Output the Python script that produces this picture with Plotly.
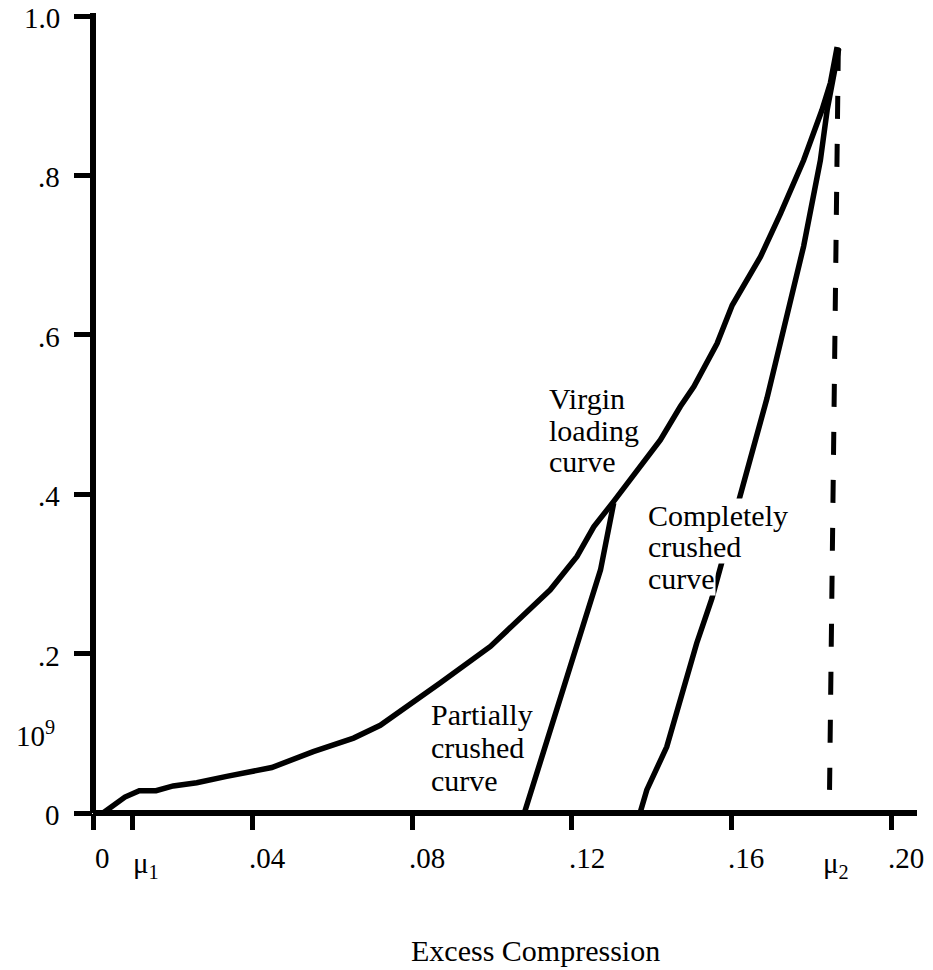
import plotly.graph_objects as go

# ---------------- data ----------------
virgin_x = [0.0025, 0.0080, 0.0116, 0.0158, 0.0201, 0.0260, 0.0335, 0.0448, 0.0552,
            0.0653, 0.0720, 0.0770, 0.0870, 0.0996, 0.1146, 0.1213, 0.1255, 0.1305,
            0.1422, 0.1472, 0.1506, 0.1564, 0.1602, 0.1673, 0.1723, 0.1781, 0.1827,
            0.1848, 0.1865]
virgin_y = [0.000, 0.020, 0.028, 0.028, 0.034, 0.038, 0.046, 0.057, 0.077,
            0.094, 0.110, 0.127, 0.163, 0.209, 0.280, 0.322, 0.359, 0.391,
            0.468, 0.510, 0.535, 0.589, 0.637, 0.698, 0.752, 0.819, 0.882,
            0.916, 0.961]

partial_x = [0.1081, 0.1272, 0.1305]
partial_y = [0.000, 0.305, 0.389]

crushed_x = [0.1371, 0.1388, 0.1438, 0.1513, 0.1551, 0.1689, 0.1781, 0.1823, 0.1840, 0.1869]
crushed_y = [0.000, 0.029, 0.083, 0.213, 0.269, 0.520, 0.711, 0.819, 0.882, 0.959]

mu2_line_x = [0.1868, 0.1846]
mu2_line_y = [0.960, 0.029]

x_tick_vals = [0, 0.01, 0.04, 0.08, 0.12, 0.16, 0.20]
x_tick_text = ["0", "μ<sub>1</sub>", ".04", ".08", ".12", ".16", ".20"]
y_tick_vals = [0, 0.2, 0.4, 0.6, 0.8, 1.0]
y_tick_text = ["0", ".2", ".4", ".6", ".8", "1.0"]
mu2_label = "μ<sub>2</sub>"
mu2_value = 0.1855
y_unit_label = "10<sup>9</sup>"
x_title = "Excess Compression"

label_virgin = ["Virgin", "loading", "curve"]
label_partial = ["Partially", "crushed", "curve"]
label_crushed = ["Completely", "crushed", "curve"]

# ---------------- styling ----------------
FONT = "Liberation Serif, Times New Roman, Times, serif"
W, H = 933, 970
L, R, T, B = 93, 16, 16, 157
PX_PER_X = 3990.0
PX_PER_Y = float(H - T - B)
x_max = (W - L - R) / PX_PER_X
LW = 5.5


def xd(px):
    return (px - L) / PX_PER_X


def yd(py):
    return (H - B - py) / PX_PER_Y


fig = go.Figure()
line_style = dict(color="black", width=LW)
fig.add_trace(go.Scatter(x=virgin_x, y=virgin_y, mode="lines", line=line_style,
                         hoverinfo="skip", cliponaxis=False))
fig.add_trace(go.Scatter(x=partial_x, y=partial_y, mode="lines", line=line_style,
                         hoverinfo="skip", cliponaxis=False))
fig.add_trace(go.Scatter(x=crushed_x, y=crushed_y, mode="lines", line=line_style,
                         hoverinfo="skip", cliponaxis=False))
fig.add_trace(go.Scatter(x=mu2_line_x, y=mu2_line_y, mode="lines",
                         line=dict(color="black", width=5, dash="23px,25px"),
                         hoverinfo="skip", cliponaxis=False))

annotations = []
# x tick labels
x_shift = {"0": 9, "μ<sub>1</sub>": 13}
for v, t in zip(x_tick_vals, x_tick_text):
    mu = t.startswith("μ")
    annotations.append(dict(x=v, y=0, xref="x", yref="y", text=t, showarrow=False,
                            xanchor="center", yanchor="middle",
                            xshift=x_shift.get(t, 15), yshift=-52 if mu else -45,
                            font=dict(family=FONT, size=29, color="black")))
annotations.append(dict(x=mu2_value, y=0, xref="x", yref="y", text=mu2_label,
                        showarrow=False, xanchor="center", yanchor="middle",
                        xshift=3, yshift=-52,
                        font=dict(family=FONT, size=29, color="black")))
# y tick labels
for v, t in zip(y_tick_vals, y_tick_text):
    annotations.append(dict(x=0, y=v, xref="paper", yref="y", text=t, showarrow=False,
                            xanchor="right", yanchor="middle", xshift=-31, yshift=-2,
                            font=dict(family=FONT, size=29, color="black")))
annotations.append(dict(x=0, y=yd(738), xref="paper", yref="y", text=y_unit_label,
                        showarrow=False, xanchor="right", yanchor="middle", xshift=-(L - 57),
                        yshift=4, font=dict(family=FONT, size=29, color="black")))
# axis title
annotations.append(dict(x=xd(535), y=0, xref="x", yref="paper", text=x_title,
                        showarrow=False, xanchor="center", yanchor="middle", yshift=-(950 - (H - B)),
                        font=dict(family=FONT, size=30, color="black")))


def add_block(lines, left_px, baselines, bg):
    # draw lower lines first so upper lines sit on top
    for text, base in reversed(list(zip(lines, baselines))):
        annotations.append(dict(x=xd(left_px), y=yd(base - 10), xref="x", yref="y", text=text,
                                showarrow=False, xanchor="left", yanchor="middle",
                                bgcolor="white" if bg else "rgba(0,0,0,0)", borderpad=0,
                                font=dict(family=FONT, size=30, color="black")))


add_block(label_virgin, 548, [408, 440, 471], False)
add_block(label_crushed, 647, [525, 556, 588], True)
add_block(label_partial, 430, [724, 757, 790], False)

shapes = [
    dict(type="line", xref="paper", yref="paper", x0=0, x1=1, y0=0, y1=0,
         line=dict(color="black", width=6)),
    dict(type="line", xref="paper", yref="paper", x0=0, x1=0, y0=0, y1=1 + 3 / PX_PER_Y,
         line=dict(color="black", width=6)),
]

fig.update_layout(
    width=W, height=H,
    margin=dict(l=L, r=R, t=T, b=B, pad=0),
    paper_bgcolor="white", plot_bgcolor="white",
    showlegend=False,
    annotations=annotations,
    shapes=shapes,
    xaxis=dict(range=[0, x_max], showgrid=False, zeroline=False, showline=False,
               tickmode="array", tickvals=x_tick_vals, ticks="outside", ticklen=16,
               tickwidth=5, tickcolor="black", showticklabels=False, fixedrange=True),
    yaxis=dict(range=[0, 1.0], showgrid=False, zeroline=False, showline=False,
               tickmode="array", tickvals=y_tick_vals, ticks="outside", ticklen=18,
               tickwidth=5, tickcolor="black", showticklabels=False, fixedrange=True),
)

fig.write_html("out.html", config={"displayModeBar": False},
               post_script="document.body.style.margin='0';document.body.style.overflow='hidden';")
